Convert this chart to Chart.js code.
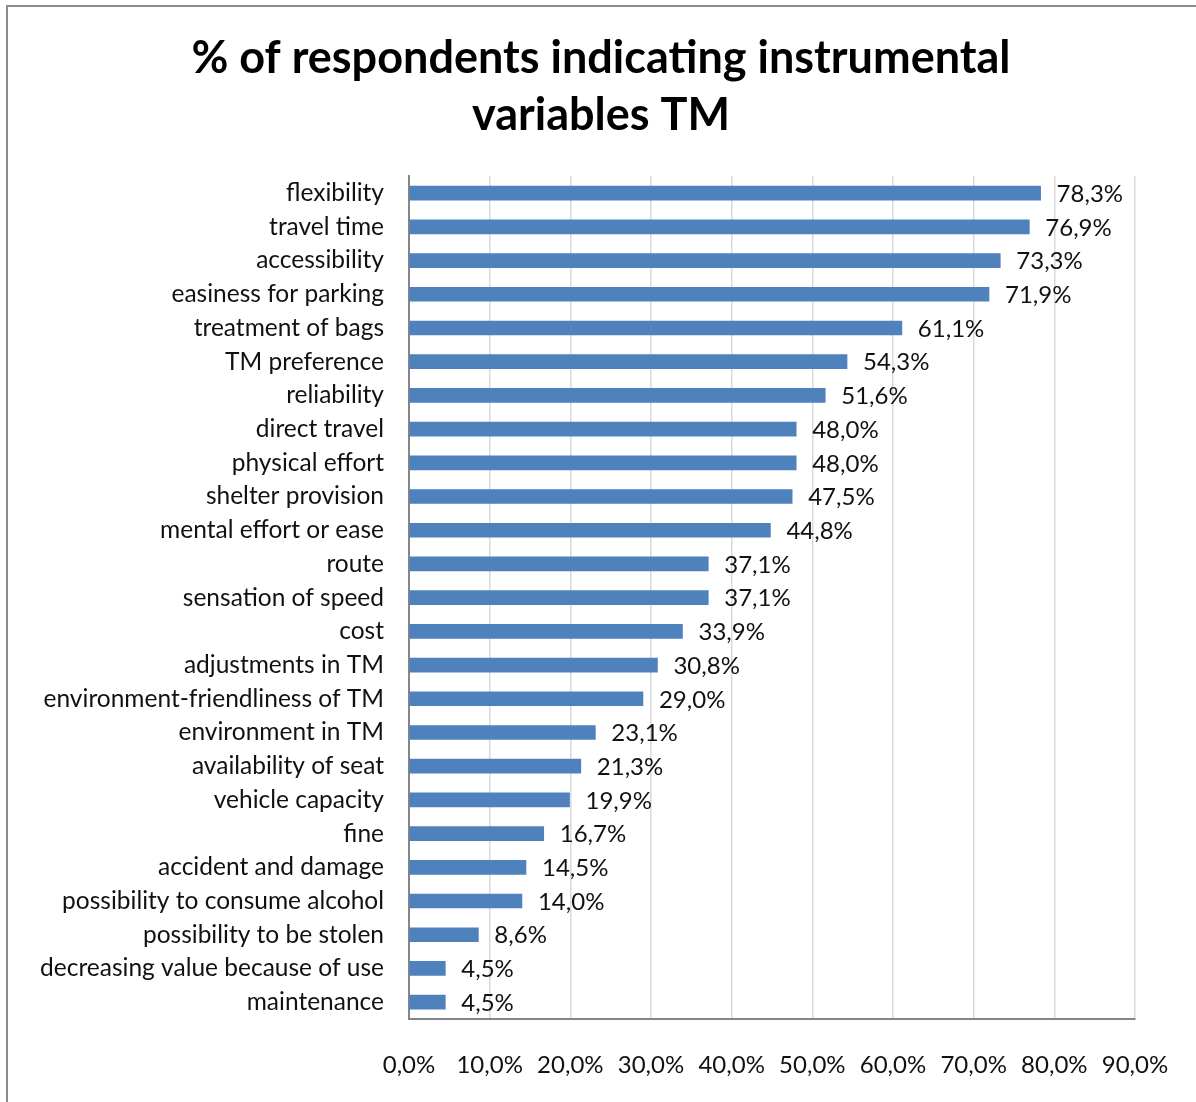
<!DOCTYPE html>
<html>
<head>
<meta charset="utf-8">
<script src="https://cdn.jsdelivr.net/npm/chart.js@4.4.1/dist/chart.umd.min.js"></script>
<style>
    html, body { margin: 0; padding: 0; background: #fff; overflow: hidden; }
    #frame {
        position: absolute; left: 6px; top: 5px;
        width: 1400px; height: 1400px;
        border: 2px solid #8c8c8c;
    }
    #bar_chart { position: absolute; left: 0; top: 0; }
</style>
</head>
<body>
<div id="frame"></div>
<canvas id="bar_chart" width="1196" height="1102"></canvas>
<script>
var categories = [
    "flexibility", "travel time", "accessibility", "easiness for parking",
    "treatment of bags", "TM preference", "reliability", "direct travel",
    "physical effort", "shelter provision", "mental effort or ease", "route",
    "sensation of speed", "cost", "adjustments in TM",
    "environment-friendliness of TM", "environment in TM", "availability of seat",
    "vehicle capacity", "fine", "accident and damage",
    "possibility to consume alcohol", "possibility to be stolen",
    "decreasing value because of use", "maintenance"
];
var percentages = [
    78.3, 76.9, 73.3, 71.9, 61.1, 54.3, 51.6, 48.0, 48.0, 47.5, 44.8, 37.1,
    37.1, 33.9, 30.8, 29.0, 23.1, 21.3, 19.9, 16.7, 14.5, 14.0, 8.6, 4.5, 4.5
];
var xTicks = [0, 10, 20, 30, 40, 50, 60, 70, 80, 90];

var fontFamily = "Lato, 'Open Sans', sans-serif";

function pct(v) {
    return v.toFixed(1).replace('.', ',') + '%';
}

// value labels to the right of each bar
var valueLabels = {
    id: 'valueLabels',
    afterDatasetsDraw: function (chart) {
        var ctx = chart.ctx;
        var meta = chart.getDatasetMeta(0);
        ctx.save();
        ctx.font = '24px ' + fontFamily;
        ctx.fillStyle = '#111';
        ctx.textAlign = 'left';
        ctx.textBaseline = 'middle';
        meta.data.forEach(function (bar, i) {
            ctx.fillText(pct(percentages[i]), bar.x + 16, bar.y + 1);
        });
        ctx.restore();
    }
};

var ctx = document.getElementById('bar_chart').getContext('2d');
new Chart(ctx, {
    type: 'bar',
    data: {
        labels: categories,
        datasets: [{
            data: percentages,
            backgroundColor: '#4f81bd',
            barThickness: 14
        }]
    },
    options: {
        indexAxis: 'y',
        responsive: false,
        animation: false,
        layout: { padding: { left: 6, right: 0, top: 0, bottom: 0 } },
        plugins: {
            legend: { display: false },
            tooltip: { enabled: false },
            title: {
                display: true,
                text: ['% of respondents indicating instrumental', 'variables TM'],
                color: '#000',
                font: { family: fontFamily, size: 45, weight: 'bold', lineHeight: 1.27 },
                padding: { top: 30, bottom: 32 }
            }
        },
        scales: {
            x: {
                min: 0,
                max: 90,
                afterBuildTicks: function (scale) {
                    scale.ticks = xTicks.map(function (v) { return { value: v }; });
                },
                afterFit: function (scale) {
                    scale.height = 83;
                    scale.paddingLeft = 0;
                    scale.paddingRight = 0;
                },
                ticks: {
                    callback: function (v) { return pct(v); },
                    color: '#111',
                    font: { family: fontFamily, size: 24 },
                    padding: 32,
                    maxRotation: 0
                },
                grid: { color: '#d9d9d9', lineWidth: 1.5, drawTicks: false },
                border: { color: '#868686', width: 2 }
            },
            y: {
                afterFit: function (scale) { scale.width = 403; },
                ticks: {
                    color: '#111',
                    font: { family: fontFamily, size: 24.5 },
                    padding: 25,
                    autoSkip: false
                },
                grid: { display: false, drawTicks: false },
                border: { color: '#868686', width: 2 }
            },
            // empty strip on the right to keep room for the last labels
            yRight: {
                position: 'right',
                afterFit: function (scale) { scale.width = 61; },
                ticks: { display: false },
                grid: { display: false, drawTicks: false },
                border: { display: false }
            }
        }
    },
    plugins: [valueLabels]
});
</script>
</body>
</html>
